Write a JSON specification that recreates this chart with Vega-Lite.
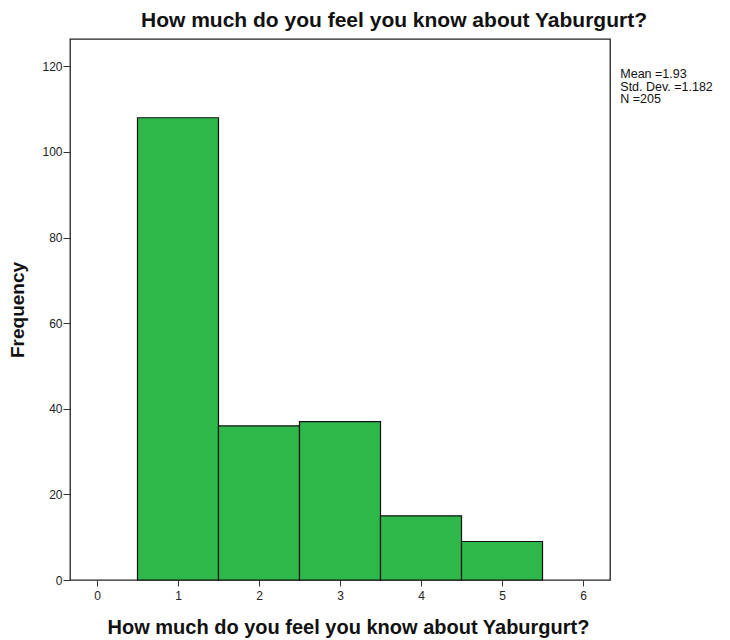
{
  "$schema": "https://vega.github.io/schema/vega-lite/v6.json",
  "width": 540,
  "height": 541,
  "autosize": {"type": "none"},
  "padding": {"left": 70, "top": 39, "right": 120, "bottom": 60},
  "background": "white",
  "config": {
    "font": "Liberation Sans",
    "view": {"stroke": "#222222", "strokeWidth": 1.3},
    "axis": {"grid": false, "domain": false, "tickColor": "#333333", "labelColor": "#222222", "labelFont": "Liberation Sans", "labelFontSize": 12, "titleFont": "Liberation Sans", "titleFontWeight": "bold", "titleColor": "#111111"}
  },
  "title": {"text": "How much do you feel you know about Yaburgurt?", "fontSize": 21, "fontWeight": "bold", "font": "Liberation Sans", "color": "#111111", "anchor": "middle", "dx": 54, "offset": 8},
  "datasets": {
    "bins": [
      {"bin_start": 0.5, "bin_end": 1.5, "frequency": 108},
      {"bin_start": 1.5, "bin_end": 2.5, "frequency": 36},
      {"bin_start": 2.5, "bin_end": 3.5, "frequency": 37},
      {"bin_start": 3.5, "bin_end": 4.5, "frequency": 15},
      {"bin_start": 4.5, "bin_end": 5.5, "frequency": 9}
    ],
    "stats": [
      {"x": 6.46, "y": 119.6, "label": "Mean =1.93\nStd. Dev. =1.182\nN =205"}
    ]
  },
  "layer": [
    {
      "data": {"name": "bins"},
      "mark": {"type": "rect", "fill": "#2EB84B", "stroke": "#111111", "strokeWidth": 1.2},
      "encoding": {
        "x": {"field": "bin_start", "type": "quantitative", "scale": {"domain": [-0.333, 6.333], "nice": false, "zero": false},
          "axis": {"values": [0, 1, 2, 3, 4, 5, 6], "format": "d", "title": "How much do you feel you know about Yaburgurt?", "titleFontSize": 20, "titlePadding": 16, "titleX": 278, "tickSize": 6, "labelPadding": 4}},
        "x2": {"field": "bin_end"},
        "y": {"field": "frequency", "type": "quantitative", "scale": {"domain": [0, 126.4], "nice": false},
          "axis": {"values": [0, 20, 40, 60, 80, 100, 120], "title": "Frequency", "titleFontSize": 19, "titlePadding": 14, "tickSize": 7, "labelPadding": 1}},
        "y2": {"datum": 0}
      }
    },
    {
      "data": {"name": "stats"},
      "mark": {"type": "text", "align": "left", "baseline": "top", "fontSize": 12.5, "lineHeight": 12.5, "lineBreak": "\n", "font": "Liberation Sans", "color": "#111111", "clip": false},
      "encoding": {
        "x": {"field": "x", "type": "quantitative"},
        "y": {"field": "y", "type": "quantitative"},
        "text": {"field": "label"}
      }
    }
  ]
}
